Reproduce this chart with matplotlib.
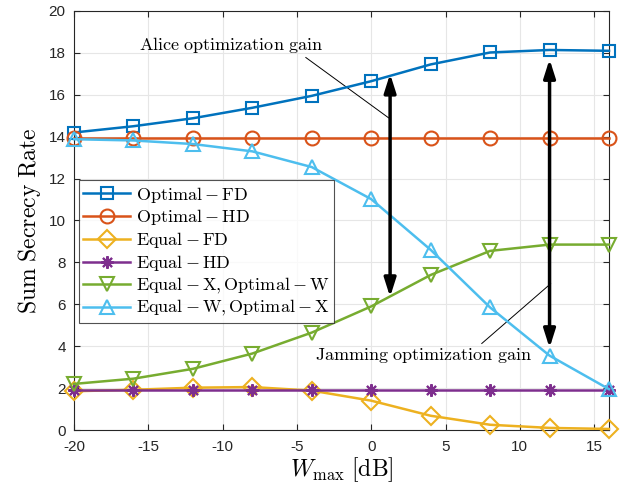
import numpy as np
import matplotlib.pyplot as plt

plt.rcParams['mathtext.fontset'] = 'cm'
plt.rcParams['font.family'] = ['Liberation Sans', 'DejaVu Sans']
plt.rcParams['axes.unicode_minus'] = False

# transmit power of the jammer [dB]
w_max = [-20, -16, -12, -8, -4, 0, 4, 8, 12, 16]

optimal_fd = [14.2, 14.5, 14.88, 15.38, 15.95, 16.65, 17.45, 18.02, 18.14, 18.1]
optimal_hd = [13.95, 13.95, 13.95, 13.95, 13.95, 13.95, 13.95, 13.95, 13.95, 13.95]
equal_fd = [1.85, 1.92, 2.02, 2.05, 1.88, 1.4, 0.68, 0.25, 0.1, 0.05]
equal_hd = [1.93, 1.93, 1.93, 1.93, 1.93, 1.93, 1.93, 1.93, 1.93, 1.93]
eqx_optw = [2.2, 2.45, 2.92, 3.65, 4.65, 5.9, 7.4, 8.55, 8.85, 8.85]
eqw_optx = [13.88, 13.82, 13.65, 13.3, 12.55, 11.02, 8.6, 5.85, 3.55, 1.95]

labels = [r'$\mathrm{Optimal} - \mathrm{FD}$',
          r'$\mathrm{Optimal} - \mathrm{HD}$',
          r'$\mathrm{Equal} - \mathrm{FD}$',
          r'$\mathrm{Equal} - \mathrm{HD}$',
          r'$\mathrm{Equal} - \mathrm{X}, \mathrm{Optimal} - \mathrm{W}$',
          r'$\mathrm{Equal} - \mathrm{W}, \mathrm{Optimal} - \mathrm{X}$']

fig = plt.figure(figsize=(6.34, 4.91), dpi=100)
ax = fig.add_axes([74/634, 1 - 430/491, 535/634, 419/491])

series = [optimal_fd, optimal_hd, equal_fd, equal_hd, eqx_optw, eqw_optx]
colors = ['#0072BD', '#D95319', '#EDB120', '#7E2F8E', '#77AC30', '#4DBEEE']
markers = ['s', 'o', 'D', (8, 2, 0), 'v', '^']
sizes = [9, 10, 9, 9, 10, 10]

for y, c, m, s, lab in zip(series, colors, markers, sizes, labels):
    ax.plot(w_max, y, color=c, marker=m, markersize=s, markerfacecolor='none',
            markeredgewidth=1.5, linewidth=1.8, label=lab, clip_on=False, zorder=3)

# gain arrows
astyle = '<|-|>,head_length=1.1,head_width=0.35'
ax.annotate('', xy=(1.27, 17.0), xytext=(1.27, 6.35),
            arrowprops=dict(arrowstyle=astyle, color='black', lw=2.5,
                            shrinkA=0, shrinkB=0), zorder=5)
ax.annotate('', xy=(12, 17.7), xytext=(12, 3.92),
            arrowprops=dict(arrowstyle=astyle, color='black', lw=2.5,
                            shrinkA=0, shrinkB=0), zorder=5)

ax.text(-9.4, 18.4, r'$\mathrm{Alice\ optimization\ gain}$', fontsize=13,
        ha='center', va='center')
ax.plot([-4.4, 1.17], [17.78, 14.9], color='black', lw=0.7)
ax.text(3.5, 3.57, r'$\mathrm{Jamming\ optimization\ gain}$', fontsize=13,
        ha='center', va='center')
ax.plot([7.44, 12.07], [4.13, 6.98], color='black', lw=0.7)

ax.set_xlim(-20, 16)
ax.set_ylim(0, 20)
ax.set_xticks(np.arange(-20, 16, 5))
ax.set_yticks(np.arange(0, 21, 2))
ax.grid(True, color='#e6e6e6', linewidth=0.8)
ax.set_axisbelow(True)
ax.tick_params(direction='in', top=True, right=True, labelsize=11,
               color='#262626', labelcolor='#262626', length=4)
ax.tick_params(axis='x', pad=7)
ax.tick_params(axis='y', pad=6)
for sp in ax.spines.values():
    sp.set_color('#262626')
    sp.set_linewidth(0.8)

ax.set_xlabel(r'$W_{\max}\ [\mathrm{dB}]$', fontsize=17, labelpad=1)
ax.set_ylabel(r'$\mathrm{Sum\ Secrecy\ Rate}$', fontsize=17, labelpad=4)

leg = ax.legend(loc='upper left', bbox_to_anchor=(0.009, 0.596), fontsize=13,
                frameon=True, fancybox=False, edgecolor='#262626',
                borderpad=0.25, labelspacing=0.15, handlelength=2.6,
                handletextpad=0.3, borderaxespad=0)
leg.get_frame().set_linewidth(0.8)

fig.savefig('out.png', dpi=100)
